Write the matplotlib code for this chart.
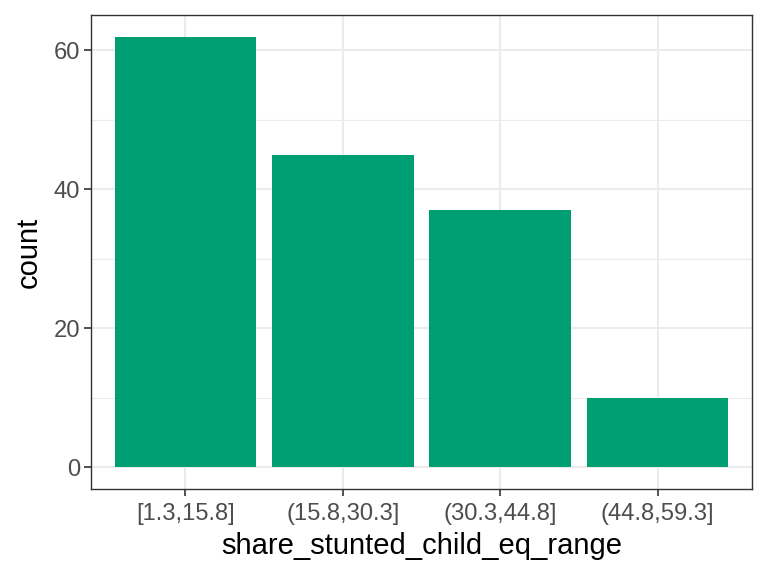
import numpy as np
import matplotlib
matplotlib.use('Agg')
from matplotlib import pyplot as plt

categories = ['[1.3,15.8]', '(15.8,30.3]', '(30.3,44.8]', '(44.8,59.3]']
counts = [62, 45, 37, 10]

plt.rcParams['font.family'] = ['Liberation Sans', 'DejaVu Sans']

fig = plt.figure(figsize=(7.68, 5.76), dpi=100)
ax = fig.add_axes([91/768, 1-489/576, (752-91)/768, (489-15)/576])

x = np.arange(1, len(categories) + 1)
ax.bar(x, counts, width=0.9, color='#009E73', zorder=3)

ax.set_xlim(0.4, 4.6)
ax.set_ylim(-3.1, 65.1)
ax.set_xticks(x)
ax.set_xticklabels(categories)
ax.set_yticks([0, 20, 40, 60])
ax.set_yticks([10, 30, 50], minor=True)

ax.set_facecolor('white')
ax.grid(which='major', color='#EBEBEB', linewidth=1.5, zorder=0)
ax.grid(which='minor', axis='y', color='#EBEBEB', linewidth=0.8, zorder=0)
for s in ax.spines.values():
    s.set_color('#333333')
    s.set_linewidth(1.0)

ax.tick_params(which='major', length=5, width=1.2, color='#333333',
               labelsize=12.5*1.37, labelcolor='#4D4D4D', pad=3)
ax.tick_params(axis='x', which='major', pad=5)
ax.tick_params(which='minor', length=0)

ax.set_xlabel('share_stunted_child_eq_range', fontsize=21, labelpad=5)
ax.set_ylabel('count', fontsize=21, labelpad=8)

plt.savefig('out.png', dpi=100)
